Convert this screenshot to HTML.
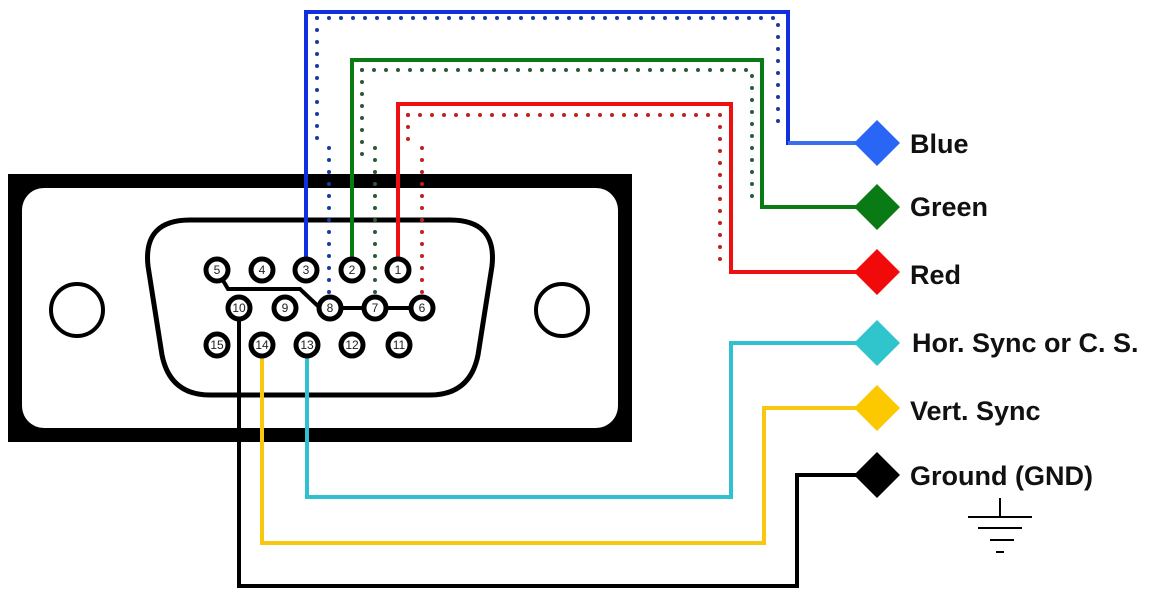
<!DOCTYPE html>
<html><head><meta charset="utf-8"><style>html,body{margin:0;padding:0;background:#fff}svg{display:block}</style></head>
<body>
<svg width="1152" height="598" viewBox="0 0 1152 598" xmlns="http://www.w3.org/2000/svg">
<rect width="1152" height="598" fill="#fff"/>
<rect x="8" y="174" width="624" height="268" fill="#000"/>
<rect x="22" y="188" width="596" height="240" rx="22" fill="#fff"/>
<circle cx="77" cy="310" r="26" fill="none" stroke="#000" stroke-width="4"/>
<circle cx="562" cy="310" r="26" fill="none" stroke="#000" stroke-width="4"/>
<path d="M190,220 L450,220 Q497,220 492,266 L478,355 Q470,395 430,395 L210,395 Q170,395 162,355 L148,266 Q143,220 190,220 Z" fill="none" stroke="#000" stroke-width="5"/>

<g fill="none" stroke-width="4" stroke-linejoin="miter">
<path d="M306,260 V12 H788 V143 H870" stroke="#1030e0"/>
<path d="M352,260 V60 H762 V207 H870" stroke="#0a7a14"/>
<path d="M398,260 V104 H731 V272 H870" stroke="#ee1010"/>
<path d="M307,356 V497 H731 V343 H870" stroke="#30c0d0"/>
<path d="M262,356 V543 H764 V408 H870" stroke="#f8c810"/>
<path d="M239,318 V586 H797 V475 H870" stroke="#000"/>
<path d="M788,143 H870" stroke="#3a6ef0"/>
</g>
<g fill="none" stroke-width="4" stroke-linecap="round" stroke-dasharray="0 12">
<path d="M317,18 H778 V132" stroke="#1a3aa0"/>
<path d="M317,18 V150 M329,148 V298" stroke="#1a3aa0"/>
<path d="M362,70 H752 V206" stroke="#2a5a3a"/>
<path d="M362,70 V158 M375,148 V298" stroke="#2a5a3a"/>
<path d="M408,115 H720 V266" stroke="#c02020"/>
<path d="M408,115 V150 M422,148 V298" stroke="#c02020"/>
</g>
<path d="M217,270 L228,289 H300 L320,308 H422" fill="none" stroke="#000" stroke-width="4"/>

<g fill="#fff" stroke="#000" stroke-width="5">
<circle cx="217" cy="270" r="11"/><circle cx="262" cy="270" r="11"/><circle cx="306" cy="270" r="11"/><circle cx="352" cy="270" r="11"/><circle cx="398" cy="270" r="11"/>
<circle cx="239" cy="308" r="11"/><circle cx="285" cy="308" r="11"/><circle cx="330" cy="308" r="11"/><circle cx="375" cy="308" r="11"/><circle cx="422" cy="308" r="11"/>
<circle cx="217" cy="345" r="11"/><circle cx="262" cy="345" r="11"/><circle cx="307" cy="345" r="11"/><circle cx="352" cy="345" r="11"/><circle cx="399" cy="345" r="11"/>
</g>
<g font-family="Liberation Sans, sans-serif" font-size="12" text-anchor="middle" fill="#222">
<text x="217" y="274">5</text><text x="262" y="274">4</text><text x="306" y="274">3</text><text x="352" y="274">2</text><text x="398" y="274">1</text>
<text x="239" y="312">10</text><text x="285" y="312">9</text><text x="330" y="312">8</text><text x="375" y="312">7</text><text x="422" y="312">6</text>
<text x="217" y="349">15</text><text x="262" y="349">14</text><text x="307" y="349">13</text><text x="352" y="349">12</text><text x="399" y="349">11</text>
</g>

<g>
<polygon points="877,120 900,143 877,166 854,143" fill="#2a66f5"/>
<polygon points="877,184 900,207 877,230 854,207" fill="#0a7a14"/>
<polygon points="877,249 900,272 877,295 854,272" fill="#f00a0a"/>
<polygon points="877,320 900,343 877,366 854,343" fill="#30c4cc"/>
<polygon points="877,385 900,408 877,431 854,408" fill="#fcc800"/>
<polygon points="877,452 900,475 877,498 854,475" fill="#000"/>
</g>
<g font-family="Liberation Sans, sans-serif" font-size="27" font-weight="bold" fill="#111">
<text x="910" y="153">Blue</text>
<text x="910" y="216">Green</text>
<text x="910" y="284">Red</text>
<text x="912" y="352">Hor. Sync or C. S.</text>
<text x="910" y="420">Vert. Sync</text>
<text x="910" y="485">Ground (GND)</text>
</g>
<g stroke="#000" stroke-width="2">
<line x1="1000" y1="498" x2="1000" y2="517"/>
<line x1="968" y1="517" x2="1032" y2="517"/>
<line x1="978" y1="528" x2="1022" y2="528"/>
<line x1="990" y1="540" x2="1014" y2="540"/>
<line x1="996" y1="552" x2="1004" y2="552"/>
</g>
</svg>
</body></html>
